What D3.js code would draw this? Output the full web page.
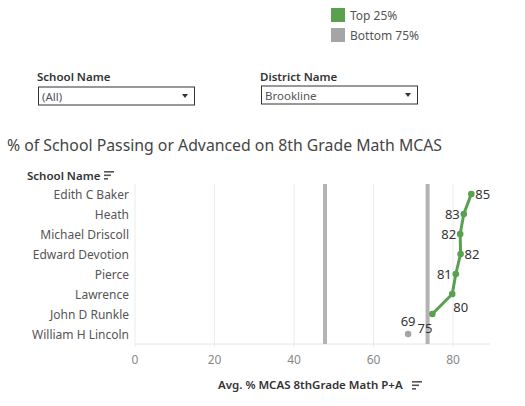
<!DOCTYPE html>
<html>
<head>
<meta charset="utf-8">
<script src="https://cdn.jsdelivr.net/npm/d3@7"></script>
<style>
  body { margin: 0; background: #fff; }
  svg { font-family: "Noto Sans", "Open Sans", sans-serif; }
</style>
</head>
<body>
<div id="chart"></div>
<script>
const schools = ["Edith C Baker", "Heath", "Michael Driscoll", "Edward Devotion",
  "Pierce", "Lawrence", "John D Runkle", "William H Lincoln"];
const passRate = [84.6, 82.7, 81.8, 81.9, 80.7, 79.8, 74.8, 68.7];
const group = ["top", "top", "top", "top", "top", "top", "top", "bottom"];
const refLines = [47.8, 73.6];
const xTicks = [0, 20, 40, 60, 80];
const legendItems = ["Top 25%", "Bottom 75%"];
const filters = [
  { label: "School Name", value: "(All)" },
  { label: "District Name", value: "Brookline" }
];

const W = 525, H = 406;
const colors = { top: "#59a14f", bottom: "#a5a5a5" };

const svg = d3.select("#chart").append("svg")
  .attr("width", W).attr("height", H);

// legend
const leg = svg.append("g").attr("transform", "translate(331,8)");
legendItems.forEach((t, i) => {
  const g = leg.append("g").attr("transform", `translate(0,${i * 20})`);
  g.append("rect").attr("width", 14).attr("height", 14)
    .attr("fill", i === 0 ? colors.top : colors.bottom);
  g.append("text").attr("x", 19).attr("y", 11.5)
    .attr("font-size", 12).attr("fill", "#555").text(t);
});

// filter boxes
filters.forEach((f, i) => {
  const x0 = i === 0 ? 38 : 261;
  const g = svg.append("g").attr("transform", `translate(${x0},0)`);
  g.append("text").attr("x", -1).attr("y", 81)
    .attr("font-size", 11.5).attr("font-weight", 600).attr("fill", "#333")
    .text(f.label);
  g.append("rect").attr("x", 0.5).attr("y", 87 - i).attr("width", 156).attr("height", 18)
    .attr("fill", "#fff").attr("stroke", "#333");
  g.append("text").attr("x", 4).attr("y", 100.5 - i)
    .attr("font-size", 11.5).attr("fill", "#555").text(f.value);
  g.append("path")
    .attr("d", `M${144},${94 - i}l6,0l-3,4z`).attr("fill", "#333");
});

// title
svg.append("text").attr("x", 7).attr("y", 151)
  .attr("font-size", 15.8).attr("fill", "#444")
  .text("% of School Passing or Advanced on 8th Grade Math MCAS");

// sort icon helper
function sortIcon(x, y) {
  const g = svg.append("g").attr("transform", `translate(${x},${y})`);
  [10, 7, 4].forEach((w, i) => {
    g.append("rect").attr("x", 0).attr("y", i * 3.5).attr("width", w).attr("height", 1.6)
      .attr("fill", "#555");
  });
}

svg.append("text").attr("x", 27).attr("y", 180)
  .attr("font-size", 11.5).attr("font-weight", 600).attr("fill", "#333")
  .text("School Name");
sortIcon(104, 171);

// scales
const x = d3.scaleLinear().domain([0, 89.3]).range([135, 490]);
const y = d3.scaleBand().domain(schools).range([184, 344]);
const yc = d => y(d) + y.bandwidth() / 2;
const plotTop = 184, plotBottom = 344;

// gridlines
svg.append("g").selectAll("line").data(xTicks).join("line")
  .attr("x1", d => x(d)).attr("x2", d => x(d))
  .attr("y1", plotTop).attr("y2", plotBottom + 3)
  .attr("stroke", "#ececec").attr("stroke-width", 1);
svg.append("line").attr("x1", x(0)).attr("x2", 490)
  .attr("y1", plotBottom).attr("y2", plotBottom).attr("stroke", "#e6e6e6");

// x tick labels
svg.append("g").selectAll("text").data(xTicks).join("text")
  .attr("x", d => x(d)).attr("y", 364).attr("text-anchor", "middle")
  .attr("font-size", 12).attr("fill", "#888").text(d => d);

// y labels
svg.append("g").selectAll("text").data(schools).join("text")
  .attr("x", 129).attr("y", d => yc(d) + 4.5).attr("text-anchor", "end")
  .attr("font-size", 12).attr("fill", "#555").text(d => d);

// reference lines
svg.append("g").selectAll("rect").data(refLines).join("rect")
  .attr("x", d => x(d) - 2).attr("y", plotTop).attr("width", 4).attr("height", plotBottom - plotTop)
  .attr("fill", "#b3b3b3");

// data
const pts = schools.map((s, i) => ({ s, v: passRate[i], g: group[i] }));
const topPts = pts.filter(p => p.g === "top");

svg.append("path").datum(topPts)
  .attr("fill", "none").attr("stroke", colors.top).attr("stroke-width", 3)
  .attr("stroke-linejoin", "round")
  .attr("d", d3.line().x(p => x(p.v)).y(p => yc(p.s)));

svg.append("g").selectAll("circle").data(pts).join("circle")
  .attr("cx", p => x(p.v)).attr("cy", p => yc(p.s)).attr("r", 3.3)
  .attr("fill", p => colors[p.g]);

// labels: side chosen to stay clear of the line
function labelPos(p, i) {
  const side = ["right", "left", "left", "right", "left", "below", "belowleft", "above"][i];
  const px = x(p.v), py = yc(p.s);
  if (side === "right") return [px + 4, py + 5, "start"];
  if (side === "left") return [px - 4, py + 5, "end"];
  if (side === "below") return [px + 1, py + 18, "start"];
  if (side === "belowleft") return [px, py + 19, "end"];
  return [px, py - 8, "middle"];
}
svg.append("g").selectAll("text").data(pts).join("text")
  .each(function (p, i) {
    const [lx, ly, a] = labelPos(p, i);
    d3.select(this).attr("x", lx).attr("y", ly).attr("text-anchor", a);
  })
  .attr("font-size", 13).attr("fill", "#333")
  .text(p => Math.round(p.v));

// axis title
svg.append("text").attr("x", 218).attr("y", 389)
  .attr("font-size", 11.5).attr("font-weight", 600).attr("fill", "#333")
  .text("Avg. % MCAS 8thGrade Math P+A");
sortIcon(412, 381);
</script>
</body>
</html>
